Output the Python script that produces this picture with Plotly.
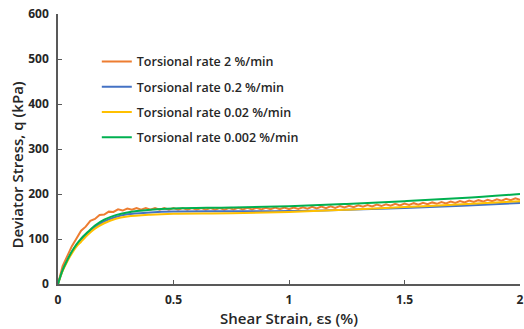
import plotly.graph_objects as go

# Shear strain (%) sampled every 0.02 for the fast-rate test
strain_fast = [round(0.02 * i, 2) for i in range(101)]
q_rate_2 = [
    0, 40, 62, 84, 101, 118.5, 127.5, 140.5, 144.5, 153.5,
    154.2, 160.8, 160.2, 165.8, 163.2, 167.8, 165.2, 168.8, 165.2, 168.8,
    165.2, 168.8, 165.2, 168.8, 165.2, 168.8, 165.2, 168.8, 165.2, 168.8,
    165.2, 168.8, 165.2, 168.8, 165.2, 168.8, 165.2, 168.8, 165.7, 169.3,
    165.7, 169.3, 165.7, 169.3, 165.7, 169.3, 166.2, 169.8, 166.2, 169.8,
    166.2, 170.1, 166.8, 170.7, 167.4, 171.3, 168.0, 171.9, 168.6, 172.5,
    169.2, 173.2, 170.0, 174.0, 170.8, 174.8, 171.6, 175.6, 172.4, 176.4,
    173.2, 177.2, 174.0, 178.0, 174.8, 178.8, 175.6, 179.6, 176.4, 180.4,
    177.2, 181.3, 178.2, 182.3, 179.2, 183.3, 180.2, 184.3, 181.2, 185.3,
    182.2, 186.3, 183.2, 187.3, 184.2, 188.3, 185.2, 189.3, 186.2, 190.3,
    187.2,
]

# Shear strain (%) for the slower-rate tests
strain_slow = [0, 0.02, 0.04, 0.06, 0.08, 0.10, 0.13, 0.16, 0.20, 0.25,
               0.30, 0.40, 0.50, 0.75, 1.00, 1.25, 1.50, 1.75, 2.00]
q_rate_02 = [0, 30, 52, 71, 86, 97, 113, 126, 139, 149,
             155, 159, 161, 161.5, 162, 165, 169, 174, 180]
q_rate_002 = [0, 29, 50, 68, 83, 94, 110, 123, 135, 145,
              150, 154, 156, 157, 160, 165, 171, 177, 184]
q_rate_0002 = [0, 31, 53, 72, 88, 101, 116, 130, 143, 153,
               159, 165, 168, 170, 173, 178, 184, 191, 200]

x_ticks = [0, 0.5, 1, 1.5, 2]
x_ticktext = ["0", "0.5", "1", "1.5", "2"]
y_ticks = [0, 100, 200, 300, 400, 500, 600]

series = [
    ("Torsional rate 2 %/min", strain_fast, q_rate_2, "#ED7D31", "linear"),
    ("Torsional rate 0.2 %/min", strain_slow, q_rate_02, "#4472C4", "spline"),
    ("Torsional rate 0.02 %/min", strain_slow, q_rate_002, "#FFC000", "spline"),
    ("Torsional rate 0.002 %/min", strain_slow, q_rate_0002, "#00B050", "spline"),
]

fig = go.Figure()
for i, (name, xs, ys, color, shape) in enumerate(series):
    fig.add_trace(go.Scatter(
        x=xs, y=ys, name=name, mode="lines",
        line=dict(color=color, width=2, shape=shape),
        legendgroup=f"g{i}",
    ))

font_family = "Open Sans"
axis_color = "#595959"
text_color = "#262626"

fig.update_layout(
    width=524, height=329,
    margin=dict(l=58, r=4, t=14, b=45),
    paper_bgcolor="white", plot_bgcolor="white",
    font=dict(family=font_family, color=text_color),
    showlegend=True,
    legend=dict(
        x=0.084, y=0.878, xanchor="left", yanchor="top",
        bgcolor="rgba(0,0,0,0)", borderwidth=0,
        font=dict(size=12.5, family=font_family, color=text_color, weight=600),
        tracegroupgap=6,
    ),
    xaxis=dict(
        range=[0, 2], tickvals=x_ticks, ticktext=x_ticktext,
        automargin=False,
        showgrid=False, zeroline=False,
        showline=True, linecolor=axis_color, linewidth=1.5,
        ticks="inside", ticklen=4, tickcolor=axis_color, tickwidth=1.2,
        ticklabelstandoff=4,
        tickfont=dict(size=12, weight="bold", color=text_color),
        title=dict(text="Shear Strain, εs (%)", standoff=6,
                   font=dict(size=15, weight=600, color=text_color)),
    ),
    yaxis=dict(
        range=[0, 600], tickvals=y_ticks,
        automargin=False,
        showgrid=False, zeroline=False,
        showline=True, linecolor=axis_color, linewidth=1.5,
        ticks="inside", ticklen=4, tickcolor=axis_color, tickwidth=1.2,
        ticklabelstandoff=5,
        tickfont=dict(size=12, weight="bold", color=text_color),
    ),
    annotations=[dict(
        text="Deviator Stress, q (kPa)", textangle=-90,
        xref="paper", yref="paper", x=-0.088, y=0.44,
        xanchor="center", yanchor="middle", showarrow=False,
        font=dict(size=15, weight=600, color=text_color, family=font_family),
    )],
)

fig.write_html("out.html")
